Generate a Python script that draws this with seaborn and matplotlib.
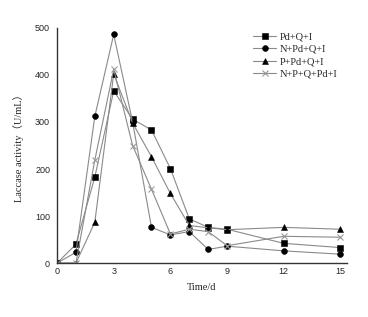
import pandas as pd
import matplotlib.pyplot as plt
import seaborn as sns

days = [0, 1, 2, 3, 4, 5, 6, 7, 8, 9, 12, 15]
pd_q_i = [0, 40, 183, 366, 306, 283, 201, 94, 76, 72, 42, 33]
n_pd_q_i = [0, 23, 312, 486, 300, 76, 60, 67, 29, 36, 26, 19]
p_pd_q_i = [0, 0, 87, 402, 298, 226, 148, 80, 75, 71, 76, 72]
n_p_q_pd_i = [0, 0, 219, 412, 250, 157, 62, 72, 67, 37, 57, 55]
labels = ['Pd+Q+I', 'N+Pd+Q+I', 'P+Pd+Q+I', 'N+P+Q+Pd+I']
yticks = [0, 100, 200, 300, 400, 500]
xticks = [0, 3, 6, 9, 12, 15]

sns.set_style('white')
serif = ['Liberation Serif', 'Noto Sans CJK SC']
plt.rcParams['font.family'] = ['Liberation Sans', 'DejaVu Sans']

fig = plt.figure(figsize=(3.68, 3.17), dpi=100)
ax = fig.add_axes([0.155, 0.17, 0.788, 0.742])

series = [pd_q_i, n_pd_q_i, p_pd_q_i, n_p_q_pd_i]
markers = ['s', 'o', '^', 'x']
mcolors = ['black', 'black', 'black', '#999999']
for vals, lab, m, mc in zip(series, labels, markers, mcolors):
    df = pd.DataFrame({'day': days, 'val': vals})
    sns.lineplot(data=df, x='day', y='val', ax=ax, color='#8a8a8a', lw=0.8,
                 marker=m, markersize=4.2 if m != 'x' else 5,
                 markerfacecolor=mc, markeredgecolor=mc,
                 markeredgewidth=0.8 if m == 'x' else 0.4, label=lab)

ax.set_xlim(0, 15.35)
ax.set_ylim(0, 500)
ax.set_xticks(xticks)
ax.set_yticks(yticks)
ax.tick_params(axis='x', direction='in', length=3, width=0.8, labelsize=6.5, pad=3)
ax.tick_params(axis='y', direction='out', length=3, width=0.8, labelsize=6.5, pad=2)
for s in ['top', 'right']:
    ax.spines[s].set_visible(False)
for s in ['left', 'bottom']:
    ax.spines[s].set_color('#333333')
    ax.spines[s].set_linewidth(1.0)

ax.set_xlabel('Time/d', family=serif, fontsize=7.5, labelpad=5)
ax.set_ylabel('Laccase activity（U/mL）', family=serif, fontsize=7.5, labelpad=8)

leg = ax.legend(loc='upper right', bbox_to_anchor=(0.98, 1.0), frameon=False,
                prop={'family': serif, 'size': 7.5}, handlelength=2.2,
                labelspacing=0.3, handletextpad=0.3, borderaxespad=0)

fig.savefig('out.png', dpi=100)
